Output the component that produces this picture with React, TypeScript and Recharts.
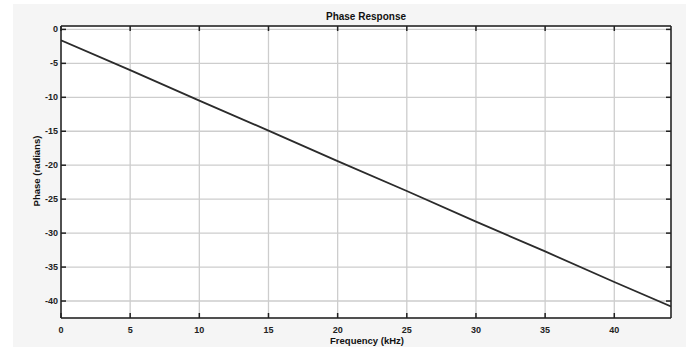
import React from "react";
import {
  LineChart,
  Line,
  XAxis,
  YAxis,
  CartesianGrid,
} from "recharts";

// Phase of the filter, radians, sampled along frequency in kHz
const freqKHz = [0, 5, 10, 15, 20, 25, 30, 35, 40, 44.1];
const phaseRad = [-1.6, -6.0, -10.5, -14.9, -19.4, -23.8, -28.3, -32.7, -37.2, -40.8];

const xTicks = [0, 5, 10, 15, 20, 25, 30, 35, 40];
const yTicks = [0, -5, -10, -15, -20, -25, -30, -35, -40];

const data = freqKHz.map((f, i) => ({ f, phase: phaseRad[i] }));

const FONT = "'Liberation Sans', Arial, sans-serif";
const INK = "#222";
const TICK_LEN = 5;

// bottom axis: inward tick mark plus label below
function BottomTick(props: any) {
  const { x, y, payload } = props;
  return (
    <g>
      <line x1={x} y1={y} x2={x} y2={y - TICK_LEN} stroke={INK} strokeWidth={1.5} />
      <text x={x} y={y + 15} textAnchor="middle" fontSize={9} fontWeight={700} fill={INK} fontFamily={FONT}>
        {payload.value}
      </text>
    </g>
  );
}

function TopTick(props: any) {
  const { x, y } = props;
  return <line x1={x} y1={y} x2={x} y2={y + TICK_LEN} stroke={INK} strokeWidth={1.5} />;
}

function LeftTick(props: any) {
  const { x, y, payload } = props;
  return (
    <g>
      <line x1={x} y1={y} x2={x + TICK_LEN} y2={y} stroke={INK} strokeWidth={1.5} />
      <text x={x - 3} y={y + 3} textAnchor="end" fontSize={9} fontWeight={700} fill={INK} fontFamily={FONT}>
        {payload.value}
      </text>
    </g>
  );
}

function RightTick(props: any) {
  const { x, y } = props;
  return <line x1={x} y1={y} x2={x - TICK_LEN} y2={y} stroke={INK} strokeWidth={1.5} />;
}

export default function App() {
  return (
    <div
      style={{
        position: "absolute",
        top: 0,
        left: 0,
        width: 686,
        height: 348,
        background: "#ffffff",
        fontFamily: FONT,
      }}
    >
      <div
        style={{
          position: "absolute",
          left: 13,
          top: 4,
          width: 673,
          height: 343,
          background: "#f5f5f5",
        }}
      />
      <div style={{ position: "absolute", left: 0, top: 0 }}>
        <LineChart
          width={686}
          height={348}
          data={data}
          margin={{ top: 25, right: 14, bottom: 0, left: 11 }}
        >
          <CartesianGrid
            xAxisId="bottom"
            yAxisId="left"
            fill="#ffffff"
            stroke="#cdcdcd"
            strokeWidth={1.3}
          />
          <XAxis
            xAxisId="bottom"
            dataKey="f"
            type="number"
            domain={[0, 44.1]}
            ticks={xTicks}
            allowDataOverflow
            height={30}
            tickSize={0}
            tickMargin={0}
            tickLine={false}
            axisLine={{ stroke: INK, strokeWidth: 1.5 }}
            tick={<BottomTick />}
          />
          <XAxis
            xAxisId="top"
            orientation="top"
            dataKey="f"
            type="number"
            domain={[0, 44.1]}
            ticks={xTicks}
            allowDataOverflow
            height={1}
            tickSize={0}
            tickMargin={0}
            tickLine={false}
            axisLine={{ stroke: INK, strokeWidth: 1.5 }}
            tick={<TopTick />}
          />
          <YAxis
            yAxisId="left"
            type="number"
            domain={[-42.5, 0.5]}
            ticks={yTicks}
            allowDataOverflow
            width={50}
            tickSize={0}
            tickMargin={0}
            tickLine={false}
            axisLine={{ stroke: INK, strokeWidth: 1.5 }}
            tick={<LeftTick />}
          />
          <YAxis
            yAxisId="right"
            orientation="right"
            type="number"
            domain={[-42.5, 0.5]}
            ticks={yTicks}
            allowDataOverflow
            width={1}
            tickSize={0}
            tickMargin={0}
            tickLine={false}
            axisLine={{ stroke: INK, strokeWidth: 1.5 }}
            tick={<RightTick />}
          />
          {/* invisible twin so the top/right frame axes get rendered */}
          <Line
            xAxisId="top"
            yAxisId="right"
            type="linear"
            dataKey="phase"
            stroke="none"
            dot={false}
            activeDot={false}
            isAnimationActive={false}
          />
          <Line
            xAxisId="bottom"
            yAxisId="left"
            type="linear"
            dataKey="phase"
            stroke="#2b2b2b"
            strokeWidth={1.8}
            dot={false}
            isAnimationActive={false}
          />
          <text x={366} y={20} textAnchor="middle" fontSize={10} fontWeight={700} fill="#111" fontFamily={FONT}>
            Phase Response
          </text>
          <text x={367} y={344} textAnchor="middle" fontSize={9.5} fontWeight={700} fill="#111" fontFamily={FONT}>
            Frequency (kHz)
          </text>
          <text
            x={40}
            y={171}
            textAnchor="middle"
            fontSize={9.5}
            fontWeight={700}
            fill="#111"
            fontFamily={FONT}
            transform="rotate(-90 40 171)"
          >
            Phase (radians)
          </text>
        </LineChart>
      </div>
    </div>
  );
}
